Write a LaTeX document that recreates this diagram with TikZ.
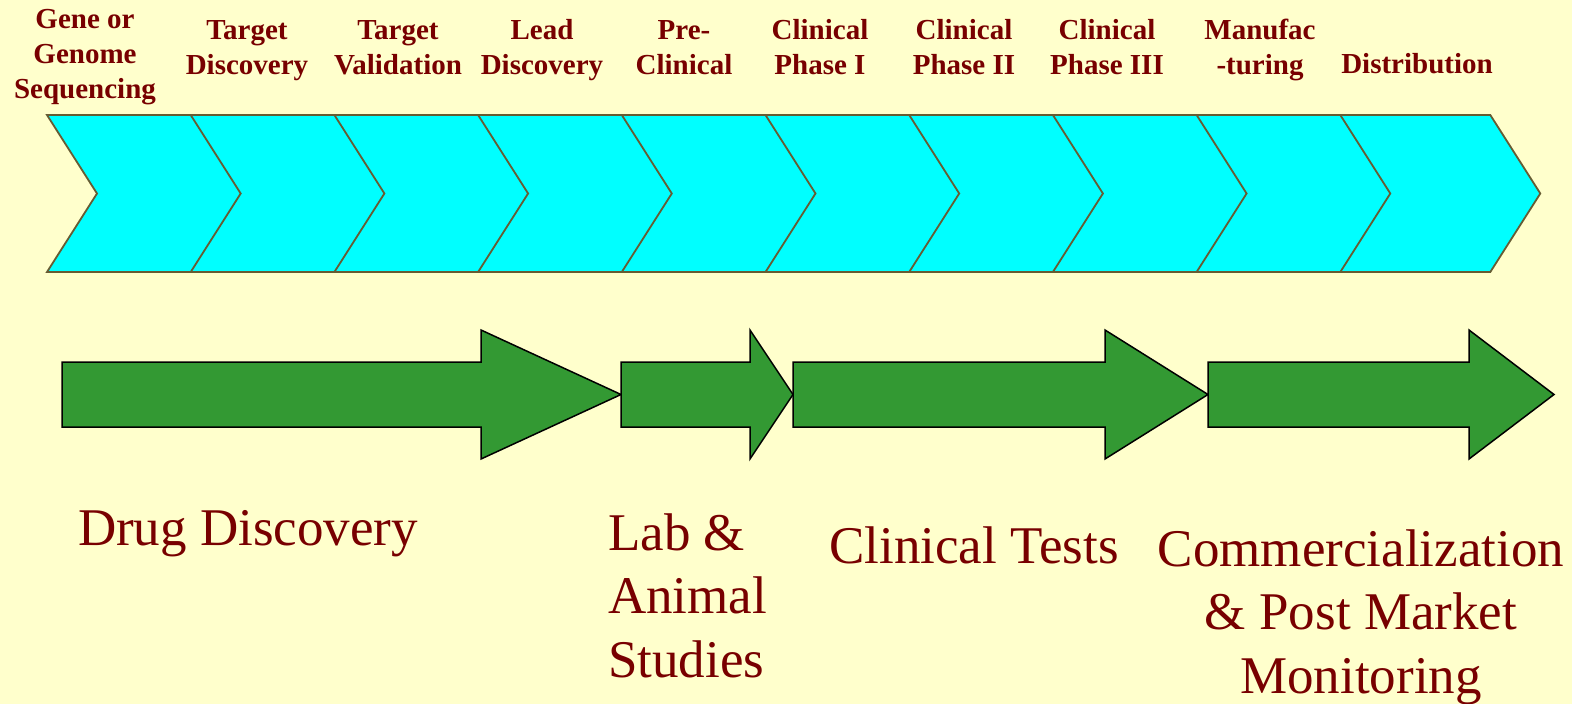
\documentclass[tikz,border=0pt]{standalone}
\usepackage{fontspec}
\setmainfont{Liberation Serif}
\definecolor{bgyellow}{RGB}{255,255,204}
\definecolor{chevcyan}{RGB}{0,255,255}
\definecolor{chevline}{RGB}{102,92,51}
\definecolor{arrgreen}{RGB}{51,153,51}
\definecolor{maroon}{RGB}{120,0,0}
\begin{document}
\begin{tikzpicture}[x=1pt,y=-1pt,
  chev/.style={fill=chevcyan,draw=chevline,line width=1.8pt,line join=miter},
  bigarrow/.style={fill=arrgreen,draw=black,line width=1.5pt,line join=miter},
  toplabel/.style={text=maroon,inner sep=0pt,align=center,anchor=base,
    font=\fontsize{29}{35}\selectfont\bfseries},
  bottomlabel/.style={text=maroon,inner sep=0pt,anchor=base,
    font=\fontsize{53}{63.5}\selectfont}]
\fill[bgyellow] (0,0) rectangle (1572,704);
\useasboundingbox (0,0) rectangle (1572,704);
% chevrons
\foreach \i in {0,...,9}{
  \pgfmathsetmacro{\L}{47+143.7*\i}
  \draw[chev] (\L,115) -- ++(150,0) -- ++(50,78.5) -- ++(-50,78.5)
    -- ++(-150,0) -- ++(50,-78.5) -- cycle;
}
% top labels (anchor = baseline of last line)
\node[toplabel] (t1) at (85,98) {Gene or\\Genome\\Sequencing};
\node[toplabel] (t2) at (247,74) {Target\\Discovery};
\node[toplabel] (t3) at (398,74) {Target\\Validation};
\node[toplabel] (t4) at (542,74) {Lead\\Discovery};
\node[toplabel] (t5) at (684,74) {Pre-\\Clinical};
\node[toplabel] (t6) at (820,74) {Clinical\\Phase I};
\node[toplabel] (t7) at (964,74) {Clinical\\Phase II};
\node[toplabel] (t8) at (1107,74) {Clinical\\Phase III};
\node[toplabel] (t9) at (1260,74) {Manufac\\-turing};
\node[toplabel] (t10) at (1417,73) {Distribution};
% green arrows
\draw[bigarrow] (62,362) -- (481,362) -- (481,330) -- (621,394.5) -- (481,459) -- (481,427) -- (62,427) -- cycle;
\draw[bigarrow] (621,362) -- (750,362) -- (750,330) -- (793,394.5) -- (750,459) -- (750,427) -- (621,427) -- cycle;
\draw[bigarrow] (793,362) -- (1105,362) -- (1105,330) -- (1208,394.5) -- (1105,459) -- (1105,427) -- (793,427) -- cycle;
\draw[bigarrow] (1208,362) -- (1469,362) -- (1469,330) -- (1554,394.5) -- (1469,459) -- (1469,427) -- (1208,427) -- cycle;
% bottom labels
\node[bottomlabel] (b1) at (248,545) {Drug Discovery};
\node[bottomlabel,align=left,anchor=base west] (b2) at (608,677) {Lab \&\\Animal\\Studies};
\node[bottomlabel] (b3) at (974,563) {Clinical Tests};
\node[bottomlabel,align=center] (b4) at (1361,693) {Commercialization\\\& Post Market\\Monitoring};
\end{tikzpicture}
\end{document}
